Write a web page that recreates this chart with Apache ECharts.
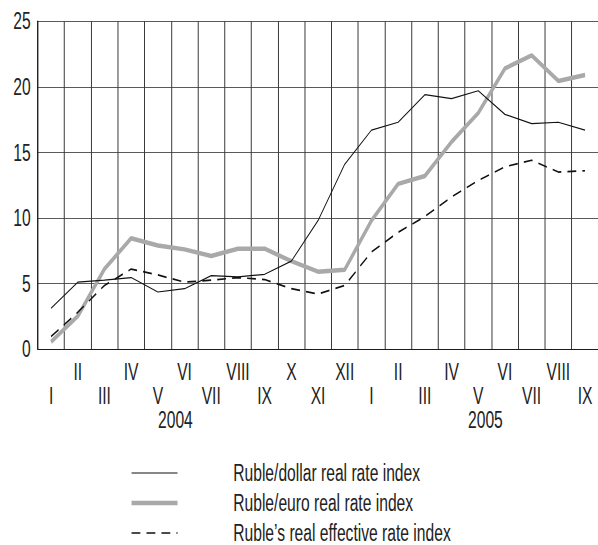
<!DOCTYPE html>
<html>
<head>
<meta charset="utf-8">
<script src="https://cdn.jsdelivr.net/npm/echarts@6/dist/echarts.min.js"></script>
<style>
html,body{margin:0;padding:0;background:#fff;overflow:hidden;width:598px;height:545px;}
#c{width:880px;height:545px;transform:scaleX(0.68);transform-origin:0 0;}
</style>
</head>
<body>
<div id="c"></div>
<script>
var months = ['I','II','III','IV','V','VI','VII','VIII','IX','X','XI','XII','I','II','III','IV','V','VI','VII','VIII','IX'];
var years = ['2004', '2005'];
var yTicks = [0, 5, 10, 15, 20, 25];
var dollar = [3.1,5.1,5.25,5.45,4.35,4.6,5.6,5.5,5.7,6.7,9.8,14.1,16.7,17.3,19.4,19.1,19.7,17.9,17.2,17.3,16.7];
var euro = [0.55,2.5,6.1,8.45,7.9,7.6,7.1,7.65,7.65,6.7,5.9,6.05,9.8,12.6,13.2,15.8,18.0,21.4,22.4,20.45,20.9];
var effective = [0.95,2.8,4.85,6.1,5.65,5.1,5.25,5.45,5.3,4.6,4.2,4.85,7.4,8.9,10.1,11.6,12.85,13.9,14.4,13.5,13.6];
var names = ['Ruble/dollar real rate index','Ruble/euro real rate index','Ruble\u2019s real effective rate index'];

// The page is horizontally condensed (scaleX 0.68) to imitate the narrow typeface.
var S = 0.68;
var FONT = "'Liberation Sans', Arial, sans-serif";
var chart = echarts.init(document.getElementById('c'), null, {renderer: 'svg'});
var option = {
  animation: false,
  backgroundColor: '#fff',
  textStyle: {fontFamily: FONT},
  grid: {left: 37.7 / S, top: 21.3, width: 563 / S, height: 327.7, containLabel: false},
  xAxis: {
    type: 'category',
    data: months,
    boundaryGap: true,
    axisLine: {show: true, lineStyle: {color: '#111', width: 1}},
    axisTick: {show: false},
    splitLine: {show: true, interval: 0, lineStyle: {color: '#3a3a3a', width: 1 / S}},
    axisLabel: {
      interval: 0, margin: 11, fontSize: 23, lineHeight: 24, color: '#222', fontFamily: FONT,
      formatter: function (v, i) { return i % 2 === 1 ? v : '\n' + v; }
    }
  },
  yAxis: {
    type: 'value', min: yTicks[0], max: yTicks[yTicks.length - 1], interval: 5,
    axisLine: {show: true, lineStyle: {color: '#111', width: 1 / S}},
    axisTick: {show: false},
    splitLine: {show: true, lineStyle: {color: '#3a3a3a', width: 1}},
    axisLabel: {fontSize: 23, color: '#222', margin: 7 / S, fontFamily: FONT}
  },
  legend: {
    orient: 'vertical', left: 130 / S, top: 461.5, height: 120, padding: 0,
    itemWidth: 46 / S, itemHeight: 10, itemGap: 7,
    itemStyle: {opacity: 0},
    textStyle: {fontSize: 23, lineHeight: 23, color: '#222', fontFamily: FONT, padding: [0, 0, 0, 55.7 / S - 5]},
    data: [
      {name: names[0], lineStyle: {width: 1.2}},
      {name: names[1], lineStyle: {width: 4.5}},
      {name: names[2], lineStyle: {width: 1.7}}
    ]
  },
  graphic: [
    {type: 'text', left: 158 / S, top: 408.5, style: {text: years[0], fontSize: 23, fill: '#222', fontFamily: FONT}},
    {type: 'text', left: 468 / S, top: 408.5, style: {text: years[1], fontSize: 23, fill: '#222', fontFamily: FONT}}
  ],
  series: [
    {name: names[0], type: 'line', data: dollar, symbol: 'none', z: 3,
     lineStyle: {color: '#111', width: 1.2}, itemStyle: {color: '#111'}},
    {name: names[1], type: 'line', data: euro, symbol: 'none', z: 2,
     lineStyle: {color: '#a9a9a9', width: 4.5}, itemStyle: {color: '#a9a9a9'}},
    {name: names[2], type: 'line', data: effective, symbol: 'none', z: 4,
     lineStyle: {color: '#111', width: 1.7, type: [13, 9]}, itemStyle: {color: '#111'}}
  ]
};
chart.setOption(option);
</script>
</body>
</html>
